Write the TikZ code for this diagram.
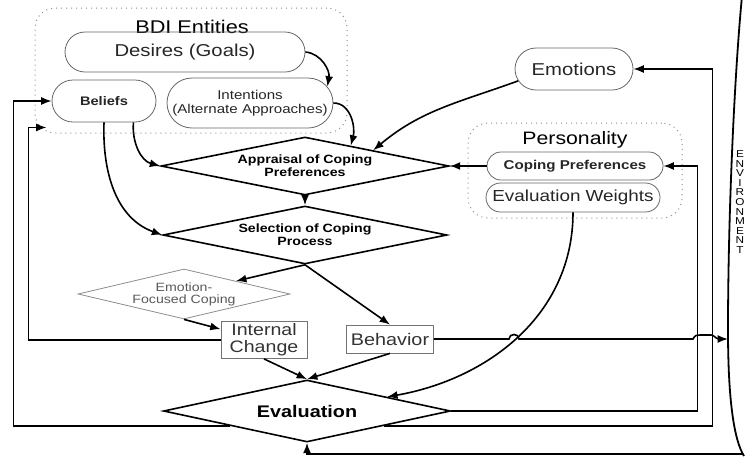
\documentclass[tikz,border=0pt]{standalone}
\usepackage{fontspec}
\setmainfont{Liberation Sans}[FakeStretch=1.18]
\usetikzlibrary{arrows.meta}
\usetikzlibrary{shapes.geometric}
\usetikzlibrary{shapes.misc}

\begin{document}
\begin{tikzpicture}[x=0.5pt,y=-0.5pt,
    flow/.style={-{Latex[length=5.2pt,width=4pt]}, line width=0.8pt},
    pill/.style={rounded rectangle, draw=black!60, line width=0.4pt, inner sep=1pt, text=black!85},
    group/.style={draw=black!45, dotted, line width=0.5pt, rounded corners=10pt},
    decision/.style={diamond, draw, line width=0.8pt, aspect=5, inner sep=0pt, align=center},
    act/.style={draw=black!55, line width=0.4pt, inner sep=1pt, align=center, text=black!80}]

    \useasboundingbox (0,0) rectangle (745,456);

    % BDI entities
    \node[group, minimum width=156pt, minimum height=62.5pt] (bdi) at (191,70.5) {};
    \node[font=\fontsize{9.2}{11}\selectfont] (bdititle) at (192,27) {BDI Entities};
    \node[pill, minimum width=122pt, minimum height=20pt, font=\fontsize{8.6}{10}\selectfont] (desires) at (185,52) {Desires (Goals)};
    \node[pill, minimum width=54pt, minimum height=21pt, font=\bfseries\fontsize{6.2}{7}\selectfont] (beliefs) at (104,101) {Beliefs};
    \node[pill, minimum width=85pt, minimum height=25pt, align=center, font=\fontsize{6.4}{7}\selectfont] (intentions) at (250,103) {Intentions\\(Alternate Approaches)};

    % emotions and personality
    \node[pill, minimum width=61pt, minimum height=21pt, font=\fontsize{8.6}{10}\selectfont] (emotions) at (574,69) {Emotions};
    \node[group, minimum width=107pt, minimum height=47.5pt] (pers) at (575,170.5) {};
    \node[font=\fontsize{9}{11}\selectfont] (perstitle) at (575,140) {Personality};
    \node[pill, minimum width=90pt, minimum height=14pt, font=\bfseries\fontsize{6.4}{7}\selectfont] (copingpref) at (575,166) {Coping Preferences};
    \node[pill, minimum width=89pt, minimum height=14.5pt, font=\fontsize{8}{9}\selectfont] (evalweights) at (573,197.5) {Evaluation Weights};

    % decisions
    \node[decision, minimum width=144pt, minimum height=29pt, font=\bfseries\fontsize{6}{6.5}\selectfont] (appraisal) at (305,166) {Appraisal of Coping\\Preferences};
    \node[decision, minimum width=142pt, minimum height=29pt, font=\bfseries\fontsize{6}{6.5}\selectfont] (selection) at (305,235) {Selection of Coping\\Process};
    \node[decision, draw=black!45, line width=0.4pt, aspect=4.2, minimum width=106pt, minimum height=25pt, text=black!65, font=\fontsize{6}{6}\selectfont] (emofocus) at (184,294) {Emotion-\\Focused Coping};
    \node[act, minimum width=43pt, minimum height=18.5pt, font=\fontsize{8.3}{8.5}\selectfont] (internal) at (264,340) {Internal\\Change};
    \node[act, minimum width=43.5pt, minimum height=14pt, font=\fontsize{8.4}{10}\selectfont] (behavior) at (390,339) {Behavior};
    \node[decision, minimum width=143.5pt, minimum height=31pt, font=\bfseries\fontsize{8.4}{10}\selectfont] (evaluation) at (307,411) {Evaluation};

    % environment edge
    \draw[line width=0.9pt] (742,-4) .. controls (734,80) and (728,220) .. (728,330) .. controls (728,400) and (734,440) .. (744,456);
    \coordinate (envin) at (728,339);
    \coordinate (envout) at (743,454);
    \node[align=center, inner sep=0pt, font=\fontsize{5}{4.8}\selectfont] (envtxt) at (740,202) {E\\N\\V\\I\\R\\O\\N\\M\\E\\N\\T};

    % links inside the BDI box
    \draw[flow] (desires.east) to[out=-5,in=80] (intentions.12);
    \draw[flow] (intentions.east) to[out=0,in=75] (appraisal.24);
    \draw[flow] (beliefs.-36) to[out=-95,in=165] (appraisal.west);
    \draw[flow] (beliefs.south) to[out=-92,in=160] (selection.west);

    % coping process
    \draw[flow] (emotions.192) to[out=200,in=40] (appraisal.13);
    \draw[flow] (copingpref.west) -- (appraisal.east);
    \draw[flow] (appraisal.south) -- (selection.north);
    \draw[flow] (selection.south) -- (emofocus.14);
    \draw[flow] (selection.south) -- (behavior.north);
    \draw[flow] (emofocus.south) -- (internal.166);
    \draw[flow] (internal.south) -- (evaluation.north);
    \draw[flow] (behavior.south) -- (evaluation.north);
    \draw[flow] (evalweights.south) to[out=-90,in=10] (evaluation.10);

    % feedback loops
    \draw[flow] (evaluation.191) -| ([xshift=-19pt]beliefs.west) -- (beliefs.west);
    \draw[flow] (evaluation.-11) -| ([xshift=39.5pt]emotions.east) -- (emotions.east);
    \draw[flow] (evaluation.east) -| ([xshift=17pt]copingpref.east) -- (copingpref.east);
    \draw[flow] (internal.west) -| ([xshift=-3pt]bdi.200) -- ([xshift=6pt]bdi.200);

    % behavior out to the environment, and back
    \draw[flow] (behavior.east) -- (509,339) .. controls (509,333) and (519,333) .. (519,339)
        -- (693,339) .. controls (695,335) and (697,335) .. (700,335) -- (711,335)
        .. controls (714,335) and (716,339) .. (719,339) -- (envin);
    \draw[flow] (envout) -| (evaluation.south);
\end{tikzpicture}
\end{document}
